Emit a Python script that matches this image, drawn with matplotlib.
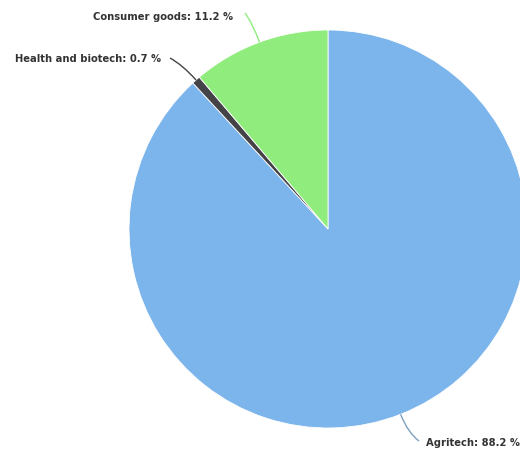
import numpy as np
import matplotlib
matplotlib.use("Agg")
import matplotlib.pyplot as plt
from matplotlib.path import Path
from matplotlib.patches import PathPatch

# Sector shares (percent)
sectors = ["Agritech", "Health and biotech", "Consumer goods"]
shares = [88.2, 0.7, 11.2]
colors = ["#7cb5ec", "#434348", "#90ed7d"]
connector_colors = ["#7f9fbf", "#434348", "#90ed7d"]

W, H = 520, 450
fig = plt.figure(figsize=(W / 100, H / 100), dpi=100)
ax = fig.add_axes([0, 0, 1, 1])

cx, cy, r = 328, H - 229, 199
wedges, _ = ax.pie(shares, colors=colors, startangle=90, counterclock=False,
                   center=(cx, cy), radius=r, frame=True,
                   wedgeprops=dict(edgecolor="white", linewidth=0.6))
ax.set_xlim(0, W)
ax.set_ylim(0, H)
ax.set_aspect("equal")
ax.axis("off")

# label anchor (x, y in pixels from top) and horizontal alignment
label_pos = {
    "Agritech": (426, 443, "left"),
    "Health and biotech": (161, 59, "right"),
    "Consumer goods": (233, 17, "right"),
}
connector_end = {
    "Agritech": (419, 441),
    "Health and biotech": (170, 58),
    "Consumer goods": (245, 13),
}

for w, name, val, cc in zip(wedges, sectors, shares, connector_colors):
    mid = np.deg2rad((w.theta1 + w.theta2) / 2)
    ex, ey = cx + r * np.cos(mid), cy + r * np.sin(mid)
    kx, ky = cx + (r + 20) * np.cos(mid), cy + (r + 20) * np.sin(mid)
    tx, ty = connector_end[name]
    path = Path([(ex, ey), (kx, ky), (tx, H - ty)],
                [Path.MOVETO, Path.CURVE3, Path.CURVE3])
    ax.add_patch(PathPatch(path, fill=False, edgecolor=cc, linewidth=1.0))
    lx, ly, ha = label_pos[name]
    ax.text(lx, H - ly, f"{name}: {val} %", ha=ha, va="center",
            fontsize=7.2, fontweight="bold", color="#333333",
            family="DejaVu Sans")

fig.savefig("out.png", dpi=100)
